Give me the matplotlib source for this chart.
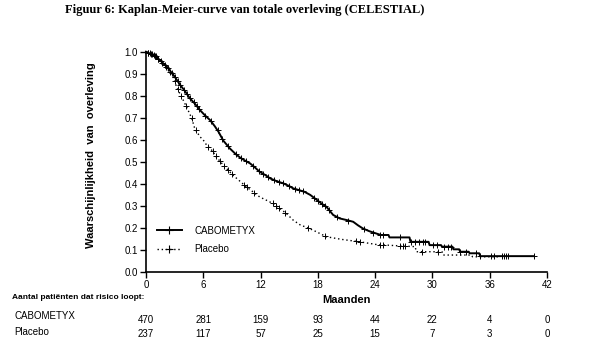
import numpy as np
import matplotlib.pyplot as plt

# KM curve vertices (months, survival)
cabo_t = [0, 0.5, 1.1, 1.6, 2.2, 2.9, 3.6, 4.1, 4.6, 5.1, 5.65, 6.2, 6.7, 7.2, 7.6, 8.1,
          8.8, 9.4, 9.9, 10.4, 10.9, 11.4, 11.9, 12.5, 13.0, 13.7, 14.4, 15.0, 15.4,
          16.0, 16.6, 17.2, 17.9, 18.4, 18.9, 19.3, 19.6, 20.3, 21.0, 21.7, 22.2, 22.7,
          23.4, 24.1, 24.6, 25.4, 25.5, 27.6, 27.7, 29.6, 29.7, 30.9, 31.0, 32.1, 32.2,
          32.8, 32.9, 33.8, 33.9, 34.9, 35.0, 40.6]
cabo_s = [1.0, 0.99, 0.976, 0.956, 0.931, 0.893, 0.848, 0.82, 0.788, 0.765, 0.735, 0.71,
          0.69, 0.662, 0.636, 0.596, 0.56, 0.535, 0.518, 0.505, 0.493, 0.475, 0.455,
          0.44, 0.425, 0.412, 0.402, 0.39, 0.38, 0.372, 0.364, 0.35, 0.327, 0.31, 0.296,
          0.275, 0.259, 0.243, 0.236, 0.228, 0.212, 0.198, 0.185, 0.175, 0.168, 0.168,
          0.157, 0.157, 0.137, 0.137, 0.122, 0.122, 0.115, 0.115, 0.103, 0.103, 0.092,
          0.092, 0.085, 0.085, 0.072, 0.072]

plac_t = [0, 0.5, 1.1, 1.6, 2.2, 2.9, 3.2, 3.9, 4.4, 4.8, 5.1, 5.65, 6.0, 6.35, 7.05,
          7.2, 8.1, 9.1, 10.5, 11.9, 13.3, 14.7, 15.4, 16.1, 17.5, 18.9, 20.5, 22.4,
          24.1, 26.0, 28.2, 28.3, 31.0, 31.1, 34.1, 34.2, 37.0]
plac_s = [1.0, 0.99, 0.976, 0.956, 0.925, 0.88, 0.84, 0.78, 0.735, 0.697, 0.652, 0.614,
          0.599, 0.576, 0.546, 0.531, 0.485, 0.44, 0.387, 0.341, 0.311, 0.266, 0.236,
          0.215, 0.19, 0.16, 0.148, 0.137, 0.125, 0.12, 0.115, 0.092, 0.092, 0.077,
          0.077, 0.069, 0.069]

# censored observations (months)
cabo_cens = [0.2, 0.4, 0.6, 0.8, 1.0, 1.3, 1.6, 2.0, 2.3, 2.7, 3.0, 3.3, 3.6, 4.0, 4.3,
             4.6, 5.0, 5.3, 5.6, 6.2, 6.8, 7.5, 8.0, 8.6, 9.4, 10.0, 10.5, 11.2, 11.8,
             12.3, 12.8, 13.4, 13.9, 14.3, 15.0, 15.6, 16.0, 16.4, 17.6, 18.0, 18.4,
             18.8, 19.2, 20.0, 21.2, 22.8, 23.8, 24.5, 24.8, 26.6, 27.8, 28.2, 28.6,
             29.0, 29.2, 30.1, 30.5, 31.2, 31.6, 31.9, 32.9, 33.5, 34.6, 35.0, 36.1,
             36.4, 37.3, 37.5, 37.7, 37.9, 40.6]
plac_cens = [0.2, 0.5, 0.9, 1.3, 1.7, 2.1, 2.5, 3.0, 3.3, 3.7, 4.2, 4.8, 5.2, 6.5, 7.0,
             7.3, 7.7, 8.2, 8.6, 9.0, 10.3, 10.6, 11.3, 13.3, 13.6, 13.9, 14.6, 17.0,
             18.8, 22.0, 22.4, 24.5, 24.8, 26.6, 26.9, 27.1, 28.9, 30.6]

risk_times = [0, 6, 12, 18, 24, 30, 36, 42]
cabo_risk = [470, 281, 159, 93, 44, 22, 4, 0]
plac_risk = [237, 117, 57, 25, 15, 7, 3, 0]

plt.rcParams['font.family'] = ['Liberation Sans', 'DejaVu Sans']

fig = plt.figure(figsize=(6.02, 3.56), dpi=100)
ax = fig.add_axes([146 / 602, 1 - 272 / 356, 401 / 602, 220.3 / 356])

ax.plot(cabo_t, cabo_s, color='black', lw=1.4, label='CABOMETYX')
ax.plot(plac_t, plac_s, color='black', lw=1.0, ls=(0, (1, 2)), label='Placebo')
ax.plot(cabo_cens, np.interp(cabo_cens, cabo_t, cabo_s), ls='none', marker='+',
        color='black', ms=5, mew=0.7)
ax.plot(plac_cens, np.interp(plac_cens, plac_t, plac_s), ls='none', marker='+',
        color='black', ms=5, mew=0.7)

ax.set_xlim(0, 42)
ax.set_ylim(0, 1.0)
ax.set_xticks(risk_times)
ax.set_yticks(np.arange(0, 1.01, 0.1))
ax.set_yticklabels(['%.1f' % v for v in np.arange(0, 1.01, 0.1)])
ax.tick_params(direction='out', length=4, width=1, labelsize=7, pad=2)
ax.spines['top'].set_visible(False)
ax.spines['right'].set_visible(False)
ax.spines['left'].set_linewidth(1.2)
ax.spines['bottom'].set_linewidth(1.2)
for ln in ax.lines:
    ln.set_clip_on(False)

ax.set_ylabel('Waarschijnlijkheid  van  overleving', fontsize=8, fontweight='bold')
ax.yaxis.set_label_coords(-0.125, 0.53)
ax.set_xlabel('Maanden', fontsize=8, fontweight='bold')
ax.xaxis.set_label_coords(0.5, -0.105)

leg_handles = [
    plt.Line2D([], [], color='black', lw=1.4, marker='+', ms=6, mew=0.8),
    plt.Line2D([], [], color='black', lw=1.0, ls=(0, (1, 2)), marker='+', ms=6, mew=0.8),
]
ax.legend(leg_handles, ['CABOMETYX', 'Placebo'], loc='upper left',
          bbox_to_anchor=(0.005, 0.25), frameon=False, fontsize=7, handlelength=2.6,
          handletextpad=1.3, labelspacing=0.9)

fig.text(65 / 602, 1 - 10 / 356, 'Figuur 6: Kaplan-Meier-curve van totale overleving (CELESTIAL)',
         family=['Liberation Serif', 'DejaVu Serif'], fontweight='bold', fontsize=9,
         va='center', ha='left')

# number at risk table
ax.text(-0.334, -0.118, 'Aantal patiënten dat risico loopt:', transform=ax.transAxes,
        fontsize=6, fontweight='bold', va='center', ha='left')
ax.text(-0.329, -0.2, 'CABOMETYX', transform=ax.transAxes, fontsize=7, va='center')
ax.text(-0.329, -0.273, 'Placebo', transform=ax.transAxes, fontsize=7, va='center')
tr = ax.get_xaxis_transform()
for t, c, p in zip(risk_times, cabo_risk, plac_risk):
    ax.text(t, -0.218, str(c), transform=tr, fontsize=7, ha='center', va='center')
    ax.text(t, -0.282, str(p), transform=tr, fontsize=7, ha='center', va='center')

fig.savefig('out.png', dpi=100)
